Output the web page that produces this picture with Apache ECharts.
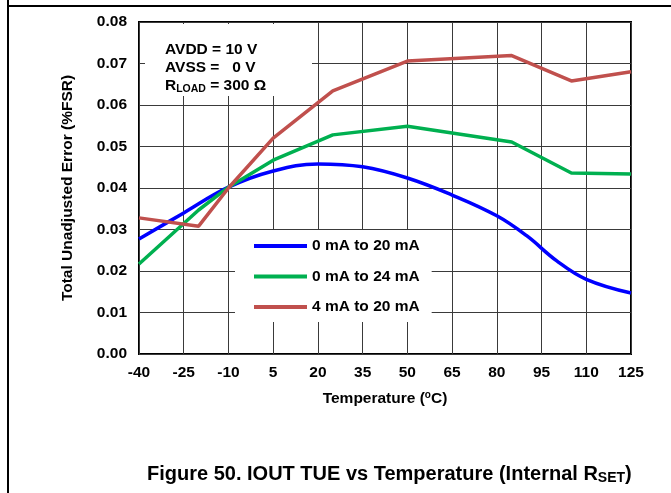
<!DOCTYPE html>
<html>
<head>
<meta charset="utf-8">
<script src="https://cdn.jsdelivr.net/npm/echarts@6/dist/echarts.min.js"></script>
<style>
  html, body { margin: 0; padding: 0; background: #fff; }
  #chart { width: 671px; height: 493px; }
</style>
</head>
<body>
<div id="chart"></div>
<script>
// Temperature (°C) / TUE (%FSR)
const blueTemps = [-40, -25, -10, 5, 20, 35, 50, 65, 80, 90, 100, 110, 125];
const blueVals = [0.0277, 0.034, 0.0402, 0.0441, 0.0458, 0.0451, 0.0424, 0.0383, 0.0333, 0.0285, 0.0225, 0.0180, 0.0147];

const greenTemps = [-40, -20, -10, 5, 25, 50, 85, 105, 125];
const greenVals = [0.0217, 0.0347, 0.0402, 0.0467, 0.0528, 0.0549, 0.0511, 0.0436, 0.0434];

const redTemps = [-40, -20, -10, 5, 25, 50, 85, 105, 125];
const redVals = [0.0328, 0.0308, 0.0400, 0.0520, 0.0634, 0.0706, 0.0719, 0.0658, 0.0680];

const seriesNames = ["0 mA to 20 mA", "0 mA to 24 mA", "4 mA to 20 mA"];
const seriesColors = ["#0000ff", "#00b050", "#c0504d"];

const X_MIN = -40; // axis starts here, shifted so ticks land on -40, -25, ...
const FONT = "'Liberation Sans', Arial, sans-serif";
const FS = 15.5;

const toPairs = (temps, vals) => temps.map((t, i) => [t - X_MIN, vals[i]]);

const chart = echarts.init(document.getElementById("chart"));
chart.setOption({
  animation: false,
  backgroundColor: "#fff",
  grid: {
    left: 139, right: 40, top: 22, bottom: 139,
    show: true, borderColor: "#000", borderWidth: 2
  },
  xAxis: {
    type: "value",
    min: 0, max: 165, interval: 15,
    name: "Temperature ({sup|o}C)",
    nameLocation: "middle",
    nameGap: 36,
    nameTextStyle: {
      fontFamily: FONT, fontWeight: "bold", fontSize: FS, color: "#000",
      rich: { sup: { fontSize: 10, fontWeight: "bold", fontFamily: FONT, verticalAlign: "top", padding: [0, 0, 7, 0] } }
    },
    axisLine: { show: false },
    axisTick: { show: false },
    axisLabel: {
      formatter: v => String(v + X_MIN),
      fontFamily: FONT, fontWeight: "bold", fontSize: FS, color: "#000", margin: 11
    },
    splitLine: { show: true, lineStyle: { color: "#3a3a3a", width: 1 } }
  },
  yAxis: {
    type: "value",
    min: 0, max: 0.08, interval: 0.01,
    name: "Total Unadjusted Error (%FSR)",
    nameLocation: "middle",
    nameGap: 63,
    nameTextStyle: { fontFamily: FONT, fontWeight: "bold", fontSize: FS, color: "#000" },
    axisLine: { show: false },
    axisTick: { show: false },
    axisLabel: {
      formatter: v => v.toFixed(2),
      fontFamily: FONT, fontWeight: "bold", fontSize: FS, color: "#000", margin: 12
    },
    splitLine: { show: true, lineStyle: { color: "#3a3a3a", width: 1 } }
  },
  legend: {
    orient: "vertical",
    left: 235, top: 230,
    padding: [8, 12, 7, 19],
    itemGap: 14.5,
    itemWidth: 53, itemHeight: 4,
    icon: "rect",
    backgroundColor: "#fff",
    data: seriesNames,
    textStyle: { fontFamily: FONT, fontWeight: "bold", fontSize: FS, color: "#000" }
  },
  graphic: [
    { type: "rect", z: 10, shape: { x: 145, y: 24, width: 167, height: 72 }, style: { fill: "#fff" } },
    {
      type: "text", z: 11, left: 165, top: 40.5,
      style: {
        text: "AVDD = 10 V\nAVSS =   0 V\n{r|R}{sub|LOAD}{r| = 300 Ω}",
        font: "bold " + FS + "px " + FONT, fill: "#000", lineHeight: 18,
        rich: {
          r: { font: "bold " + FS + "px " + FONT, fill: "#000" },
          sub: { font: "bold 10.5px " + FONT, fill: "#000", padding: [7, 0, 0, 0] }
        }
      }
    },
    { type: "line", shape: { x1: 7, y1: 6, x2: 671, y2: 6 }, style: { stroke: "#000", lineWidth: 2 } },
    { type: "line", shape: { x1: 8, y1: 0, x2: 8, y2: 493 }, style: { stroke: "#000", lineWidth: 2 } },
    {
      type: "text", left: 147, top: 464,
      style: {
        text: "{t|Figure 50. IOUT TUE vs Temperature (Internal R}{s|SET}{t|)}",
        rich: {
          t: { font: "bold 20px " + FONT, fill: "#000" },
          s: { font: "bold 14px " + FONT, fill: "#000", padding: [9, 0, 0, 0] }
        }
      }
    }
  ],
  series: [
    {
      name: seriesNames[0], type: "line", smooth: 0.4, showSymbol: false,
      data: toPairs(blueTemps, blueVals),
      lineStyle: { color: seriesColors[0], width: 3.5 }, itemStyle: { color: seriesColors[0] }
    },
    {
      name: seriesNames[1], type: "line", showSymbol: false,
      data: toPairs(greenTemps, greenVals),
      lineStyle: { color: seriesColors[1], width: 3.5 }, itemStyle: { color: seriesColors[1] }
    },
    {
      name: seriesNames[2], type: "line", showSymbol: false,
      data: toPairs(redTemps, redVals),
      lineStyle: { color: seriesColors[2], width: 3.5 }, itemStyle: { color: seriesColors[2] }
    }
  ]
});
</script>
</body>
</html>
